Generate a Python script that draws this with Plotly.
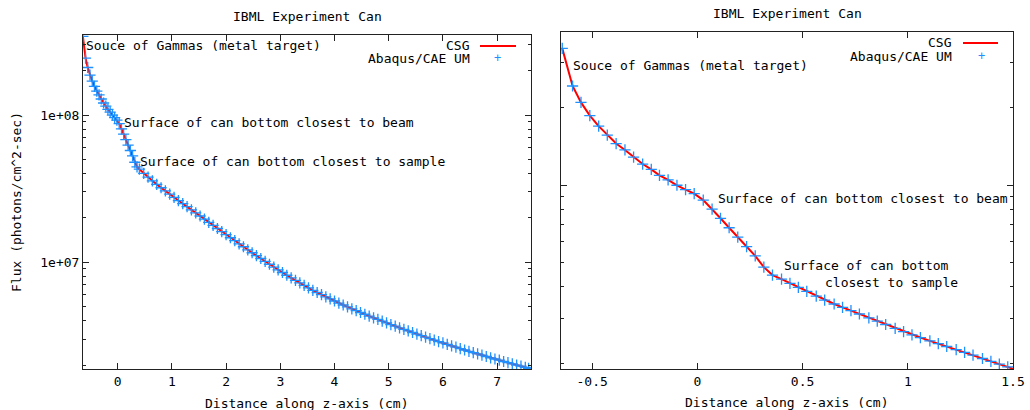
import plotly.graph_objects as go

# ---------------- data ----------------
# Right panel: z (cm) and log10 of flux (photons/cm^2-sec), marker positions
z_near = [-0.642, -0.593, -0.553, -0.511, -0.469, -0.428, -0.386, -0.344, -0.303, -0.260,
          -0.219, -0.180, -0.139, -0.097, -0.056, -0.015, 0.028, 0.070, 0.110, 0.151,
          0.192, 0.234, 0.275, 0.316, 0.357, 0.400, 0.44, 0.48, 0.52, 0.565,
          0.605, 0.65, 0.69, 0.73, 0.77, 0.815, 0.855, 0.895, 0.94, 0.98,
          1.02, 1.06, 1.105, 1.145, 1.185, 1.23, 1.27, 1.31, 1.355, 1.395,
          1.435, 1.475, 1.515]
log_flux_near = [8.534, 8.387, 8.323, 8.271, 8.230, 8.195, 8.162, 8.137, 8.109, 8.082,
                 8.061, 8.038, 8.020, 7.999, 7.982, 7.966, 7.941, 7.906, 7.870, 7.833,
                 7.796, 7.759, 7.723, 7.679, 7.648, 7.632, 7.616, 7.600, 7.584, 7.566,
                 7.550, 7.535, 7.522, 7.509, 7.496, 7.481, 7.468, 7.455, 7.440, 7.427,
                 7.414, 7.404, 7.391, 7.380, 7.369, 7.357, 7.346, 7.335, 7.322, 7.311,
                 7.300, 7.289, 7.278]

# Left panel: full z range
z_full = [-0.642, -0.593, -0.553, -0.511, -0.469, -0.428, -0.386, -0.344, -0.303, -0.260,
          -0.219, -0.180, -0.139, -0.097, -0.056, -0.015, 0.028, 0.070, 0.110, 0.151,
          0.192, 0.234, 0.275, 0.316, 0.357, 0.400,
          0.48, 0.56, 0.64, 0.72, 0.80, 0.88, 0.96, 1.04, 1.12, 1.20,
          1.28, 1.36, 1.44, 1.52, 1.60, 1.68, 1.76, 1.84, 1.92, 2.00,
          2.08, 2.16, 2.24, 2.32, 2.40, 2.48, 2.56, 2.64, 2.72, 2.80,
          2.88, 2.96, 3.04, 3.12, 3.20, 3.28, 3.36, 3.44, 3.52, 3.60,
          3.68, 3.76, 3.84, 3.92, 4.00, 4.08, 4.16, 4.24, 4.32, 4.40,
          4.48, 4.56, 4.64, 4.72, 4.80, 4.88, 4.96, 5.04, 5.12, 5.20,
          5.28, 5.36, 5.44, 5.52, 5.60, 5.68, 5.76, 5.84, 5.92, 6.00,
          6.08, 6.16, 6.24, 6.32, 6.40, 6.48, 6.56, 6.64, 6.72, 6.80,
          6.88, 6.96, 7.04, 7.12, 7.20, 7.28, 7.36, 7.44, 7.52, 7.58]
log_flux_full = [8.534, 8.387, 8.323, 8.271, 8.230, 8.195, 8.162, 8.137, 8.109, 8.082,
                 8.061, 8.038, 8.020, 7.999, 7.982, 7.966, 7.941, 7.906, 7.870, 7.833,
                 7.796, 7.759, 7.723, 7.679, 7.648, 7.632,
                 7.604, 7.578, 7.553, 7.529, 7.506, 7.484, 7.462, 7.440, 7.419, 7.398,
                 7.377, 7.356, 7.335, 7.314, 7.293, 7.271, 7.250, 7.229, 7.208, 7.187,
                 7.166, 7.146, 7.125, 7.105, 7.084, 7.064, 7.044, 7.025, 7.005, 6.986,
                 6.967, 6.948, 6.930, 6.911, 6.894, 6.876, 6.859, 6.842, 6.826, 6.809,
                 6.794, 6.779, 6.764, 6.750, 6.736, 6.722, 6.709, 6.696, 6.683, 6.671,
                 6.658, 6.646, 6.634, 6.622, 6.611, 6.599, 6.588, 6.576, 6.565, 6.554,
                 6.543, 6.533, 6.522, 6.511, 6.501, 6.491, 6.480, 6.470, 6.460, 6.451,
                 6.441, 6.431, 6.422, 6.413, 6.403, 6.394, 6.385, 6.377, 6.368, 6.359,
                 6.350, 6.342, 6.334, 6.325, 6.317, 6.309, 6.301, 6.293, 6.285, 6.279]

flux_near = [10 ** v for v in log_flux_near]
flux_full = [10 ** v for v in log_flux_full]

left_xticks = [0, 1, 2, 3, 4, 5, 6, 7]
left_xticktext = ["0", "1", "2", "3", "4", "5", "6", "7"]
right_xticks = [-0.5, 0, 0.5, 1, 1.5]
right_xticktext = ["-0.5", "0", "0.5", "1", "1.5"]
left_yticks = [1e7, 1e8]
left_yticktext = ["1e+07", "1e+08"]
minor_y = [2e6, 3e6, 4e6, 5e6, 6e6, 7e6, 8e6, 9e6,
           2e7, 3e7, 4e7, 5e7, 6e7, 7e7, 8e7, 9e7, 2e8, 3e8]

title_text = "IBML Experiment Can"
x_title = "Distance along z-axis (cm)"
y_title = "Flux (photons/cm^2-sec)"
series_names = ["CSG", "Abaqus/CAE UM"]

# ---------------- styling ----------------
W, H = 1030, 410
FONT = "DejaVu Sans Mono"
FS = 13
RED = "#ff0000"
BLUE = "#1e90ff"


def px(x):
    return x / W


def py(y):
    return 1 - y / H


fig = go.Figure()

for xa, ya, zz, ff in [("x", "y", z_full, flux_full), ("x2", "y2", z_near, flux_near)]:
    fig.add_trace(go.Scatter(x=zz, y=ff, mode="lines", name=series_names[0],
                             line=dict(color=RED, width=2), xaxis=xa, yaxis=ya,
                             showlegend=False, cliponaxis=True))
    fig.add_trace(go.Scatter(x=zz, y=ff, mode="markers", name=series_names[1],
                             marker=dict(symbol="cross-thin", size=8,
                                         line=dict(color=BLUE, width=1.3)),
                             xaxis=xa, yaxis=ya, showlegend=False, cliponaxis=True))

axis_common = dict(showgrid=False, zeroline=False, showline=True, linecolor="#222222",
                   linewidth=1, mirror="allticks", ticks="inside", ticklen=6,
                   tickcolor="#222222", tickwidth=1, automargin=False,
                   tickfont=dict(family=FONT, size=FS, color="black"))

fig.update_layout(
    width=W, height=H, margin=dict(l=0, r=0, t=0, b=0, pad=0), autosize=False,
    paper_bgcolor="white", plot_bgcolor="white", showlegend=False,
    xaxis=dict(domain=[px(83), px(531)], range=[-0.640, 7.625], anchor="y",
               tickmode="array", tickvals=left_xticks, ticktext=left_xticktext, **axis_common),
    yaxis=dict(domain=[py(369), py(35)], type="log", range=[6.274, 8.544], anchor="x",
               tickmode="array", tickvals=left_yticks, ticktext=left_yticktext,
               minor=dict(tickmode="array", tickvals=minor_y, ticks="inside", ticklen=3,
                          tickcolor="#222222"),
               **axis_common),
    xaxis2=dict(domain=[px(561), px(1013)], range=[-0.648, 1.5], anchor="y2",
                tickmode="array", tickvals=right_xticks, ticktext=right_xticktext, **axis_common),
    yaxis2=dict(domain=[py(369), py(32)], type="log", range=[7.281, 8.598], anchor="x2",
                tickmode="array", tickvals=[1e8], showticklabels=False,
                minor=dict(tickmode="array", tickvals=minor_y, ticks="inside", ticklen=3,
                           tickcolor="#222222"),
                **axis_common),
)

font = dict(family=FONT, size=FS, color="black")
ann = []
# titles
ann.append(dict(text=title_text, x=px(307), y=py(16), xref="paper", yref="paper",
                xanchor="center", yanchor="middle", showarrow=False, font=font))
ann.append(dict(text=title_text, x=px(787), y=py(13), xref="paper", yref="paper",
                xanchor="center", yanchor="middle", showarrow=False, font=font))
# axis titles
ann.append(dict(text=x_title, x=px(307), y=py(403), xref="paper", yref="paper",
                xanchor="center", yanchor="middle", showarrow=False, font=font))
ann.append(dict(text=x_title, x=px(787), y=py(402), xref="paper", yref="paper",
                xanchor="center", yanchor="middle", showarrow=False, font=font))
ann.append(dict(text=y_title, x=px(16), y=py(202), xref="paper", yref="paper",
                xanchor="center", yanchor="middle", textangle=-90, showarrow=False, font=font))

# legends
for (tx, ty1, ty2, lx0, lx1, plx) in [(472, 46, 58, 480, 516, 497), (954, 43, 56, 963, 998, 981)]:
    ann.append(dict(text=series_names[0], x=px(tx), y=py(ty1), xref="paper", yref="paper",
                    xanchor="right", yanchor="middle", showarrow=False, font=font))
    ann.append(dict(text=series_names[1], x=px(tx), y=py(ty2), xref="paper", yref="paper",
                    xanchor="right", yanchor="middle", showarrow=False, font=font))
    ann.append(dict(text="+", x=px(plx), y=py(ty2), xref="paper", yref="paper",
                    xanchor="center", yanchor="middle", showarrow=False,
                    font=dict(family=FONT, size=12, color=BLUE)))
    fig.add_shape(type="line", xref="paper", yref="paper", x0=px(lx0), x1=px(lx1),
                  y0=py(ty1), y1=py(ty1), line=dict(color=RED, width=2))

# callout labels (data coordinates; log axes use exponent)
labels_left = [("Souce of Gammas (metal target)", -0.62, 8.476),
               ("Surface of can bottom closest to beam", 0.074, 7.946),
               ("Surface of can bottom closest to sample", 0.375, 7.682)]
labels_right = [("Souce of Gammas (metal target)", -0.602, 8.469),
                ("Surface of can bottom closest to beam", 0.088, 7.948),
                ("Surface of can bottom", 0.400, 7.684),
                ("closest to sample", 0.598, 7.620)]
for t, x, y in labels_left:
    ann.append(dict(text=t, x=x, y=y, xref="x", yref="y", xanchor="left", yanchor="middle",
                    showarrow=False, font=font))
for t, x, y in labels_right:
    ann.append(dict(text=t, x=x, y=y, xref="x2", yref="y2", xanchor="left", yanchor="middle",
                    showarrow=False, font=font))

fig.update_layout(annotations=ann)
fig.write_html("out.html", post_script="document.body.style.margin='0';")
